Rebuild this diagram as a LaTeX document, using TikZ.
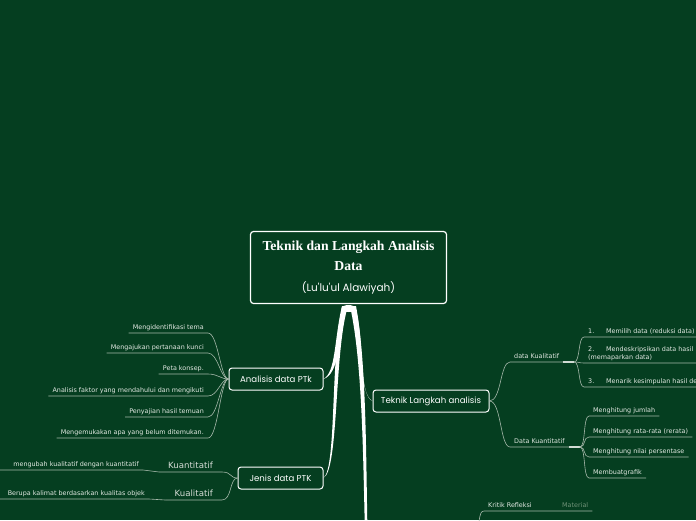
\documentclass[tikz,border=0pt]{standalone}
\usepackage{fontspec}
\setmainfont{DejaVu Sans}
\newfontfamily\titlefont{Liberation Serif}
\newfontfamily\handfont{Poppins}
\usetikzlibrary{calc}

\definecolor{bgcol}{RGB}{5,62,32}
\definecolor{leafcol}{RGB}{226,232,226}
\definecolor{subcol}{RGB}{214,220,214}
\definecolor{linecol}{RGB}{166,184,170}
\definecolor{dimcol}{RGB}{112,146,120}

\tikzset{
  central/.style={draw=white, line width=1.2pt, rounded corners=3pt, fill=bgcol,
    text=white, align=center, inner sep=0pt,
    font=\titlefont\bfseries\fontsize{13.7}{20.5}\selectfont},
  topic/.style={draw=white, line width=1pt, rounded corners=3pt, fill=bgcol,
    text=white, inner sep=0pt, font=\handfont\fontsize{8.6}{10}\selectfont},
  leaf/.style={text=leafcol, inner xsep=4pt, inner ysep=2.2pt,
    text height=4.9pt, text depth=1.3pt, font=\fontsize{6.4}{7.5}\selectfont},
  subleaf/.style={text=subcol, inner xsep=9pt, inner ysep=2.2pt,
    text height=6.3pt, text depth=1.6pt, font=\fontsize{8.6}{10}\selectfont},
  link/.style={draw=linecol, line width=0.6pt},
  handle/.style={draw=linecol!50!white, line width=1.8pt},
  trunk/.style={fill=white},
}

\begin{document}
\begin{tikzpicture}[x=1pt,y=-1pt]
    % background, fixes the picture size
    \fill[bgcol] (0,0) rectangle (696,520);
    \useasboundingbox (0,0) rectangle (696,520);

    % 1) Central topic
    \node[central, minimum width=196, minimum height=72] (root) at (348.5,267.5)
      {Teknik dan Langkah Analisis\\ Data\\
       {\handfont\mdseries\fontsize{10.5}{20.5}\selectfont (Lu'lu'ul Alawiyah)}};

    % 2) Main topics
    \node[topic, minimum width=94, minimum height=22] (ana) at (276,379) {Analisis data PTk};
    \node[topic, minimum width=85, minimum height=22] (jen) at (280.5,478) {Jenis data PTK};
    \node[topic, minimum width=116, minimum height=22] (tek) at (431,401) {Teknik Langkah analisis};
    \coordinate (down) at (366,522);

    % 3) Trunk from the central topic
    \fill[trunk] (348.5,308.5) ellipse (7 and 3.5);
    \fill[trunk] (342,306) .. controls (334,340) and (336,372) .. (ana.east)
      .. controls (339,374) and (339,340) .. (347,306) -- cycle;
    \fill[trunk] (343,306) .. controls (330,350) and (337,468) .. (jen.east)
      .. controls (339,470) and (334,350) .. (348,306) -- cycle;
    \fill[trunk] (355,306) .. controls (365,340) and (358,394) .. (tek.west)
      .. controls (360,397) and (361,340) .. (350,306) -- cycle;
    \fill[trunk] (350,306) .. controls (362,360) and (363,450) .. ($(down)+(-1.3,0)$)
      -- ($(down)+(1.3,0)$) .. controls (366,450) and (366,360) .. (356,306) -- cycle;

    % 4) Analisis data PTk
    \node[leaf, anchor=south east] (a1) at (208,333) {Mengidentifikasi tema};
    \node[leaf, anchor=south east] (a2) at (208,353) {Mengajukan pertanaan kunci};
    \node[leaf, anchor=south east] (a3) at (208,374) {Peta konsep.};
    \node[leaf, anchor=south east] (a4) at (208,396) {Analisis faktor yang mendahului dan mengikuti};
    \node[leaf, anchor=south east] (a5) at (208,417) {Penyajian hasil temuan};
    \node[leaf, anchor=south east] (a6) at (208,438) {Mengemukakan apa yang belum ditemukan.};
    \foreach \n in {a1,a2,a3,a4,a5,a6}
      \draw[link] (\n.south west) -- (\n.south east) .. controls +(10,0) and +(-8,0) .. (ana.west);

    % 5) Jenis data PTK
    \node[subleaf, anchor=south east] (kuan) at (222,472) {Kuantitatif};
    \node[subleaf, anchor=south east] (kual) at (222,500) {Kualitatif};
    \draw[link] (kuan.south west) -- (kuan.south east) .. controls +(10,0) and +(-8,0) .. (jen.west);
    \draw[link] (kual.south west) -- (kual.south east) .. controls +(10,0) and +(-8,0) .. (jen.west);
    \node[leaf, anchor=south east] (g1) at (143,470) {mengubah kualitatif dengan kuantitatif};
    \node[leaf, anchor=south east] (g2) at (149,499) {Berupa kalimat berdasarkan kualitas objek};
    \coordinate (g1l) at (-2,470);
    \coordinate (g2l) at (-2,499);
    \draw[link] (g1l) -- (g1.south east) -- (kuan.south west);
    \draw[link] (g2l) -- (g2.south east) -- (kual.south west);

    % 6) Teknik Langkah analisis
    \node[leaf, anchor=south west] (dk) at (510,362) {data Kualitatif};
    \node[leaf, anchor=south west] (dq) at (510,447) {Data Kuantitatif};
    \coordinate (dkend) at ($(dk.south east)+(11,0)$);
    \coordinate (dqend) at ($(dq.south east)+(11,0)$);
    \draw[link] (tek.east) .. controls +(12,0) and +(-10,0) .. (dk.south west) -- (dkend);
    \draw[link] (tek.east) .. controls +(12,0) and +(-10,0) .. (dq.south west) -- (dqend);
    \draw[handle] (dk.south east) -- (dkend);
    \draw[handle] (dq.south east) -- (dqend);

    % 7) data Kualitatif steps
    \node[leaf, anchor=south west] (k1) at (584,337) {\makebox[18pt][l]{1.}Memilih data (reduksi data)};
    \node[leaf, anchor=south west, align=left, text height=12.4pt] (k2) at (584,363)
      {\makebox[18pt][l]{2.}Mendeskripsikan data hasil\\(memaparkan data)};
    \node[leaf, anchor=south west] (k3) at (584,387) {\makebox[18pt][l]{3.}Menarik kesimpulan hasil de};
    \foreach \n in {k1,k2,k3}
      \draw[link] (dkend) .. controls +(6,0) and +(-6,0) .. (\n.south west) -- (\n.south east);

    % 8) Data Kuantitatif steps
    \node[leaf, anchor=south west] (q1) at (589,416) {Menghitung jumlah};
    \node[leaf, anchor=south west] (q2) at (589,437) {Menghitung rata-rata (rerata)};
    \node[leaf, anchor=south west] (q3) at (589,457) {Menghitung nilai persentase};
    \node[leaf, anchor=south west] (q4) at (589,478) {Membuatgrafik};
    \foreach \n in {q1,q2,q3,q4}
      \draw[link] (dqend) .. controls +(6,0) and +(-6,0) .. (\n.south west) -- (\n.south east);

    % 9) Kritik Refleksi (enters from below)
    \coordinate (krin) at (479,522);
    \node[leaf, anchor=south west] (kr) at (484,511) {Kritik Refleksi};
    \node[leaf, anchor=south west, text=dimcol] (mat) at (558,511) {Material};
    \draw[link] (krin) .. controls (480,514) and (481,511) .. (kr.south west) -- (mat.south east);
\end{tikzpicture}
\end{document}
